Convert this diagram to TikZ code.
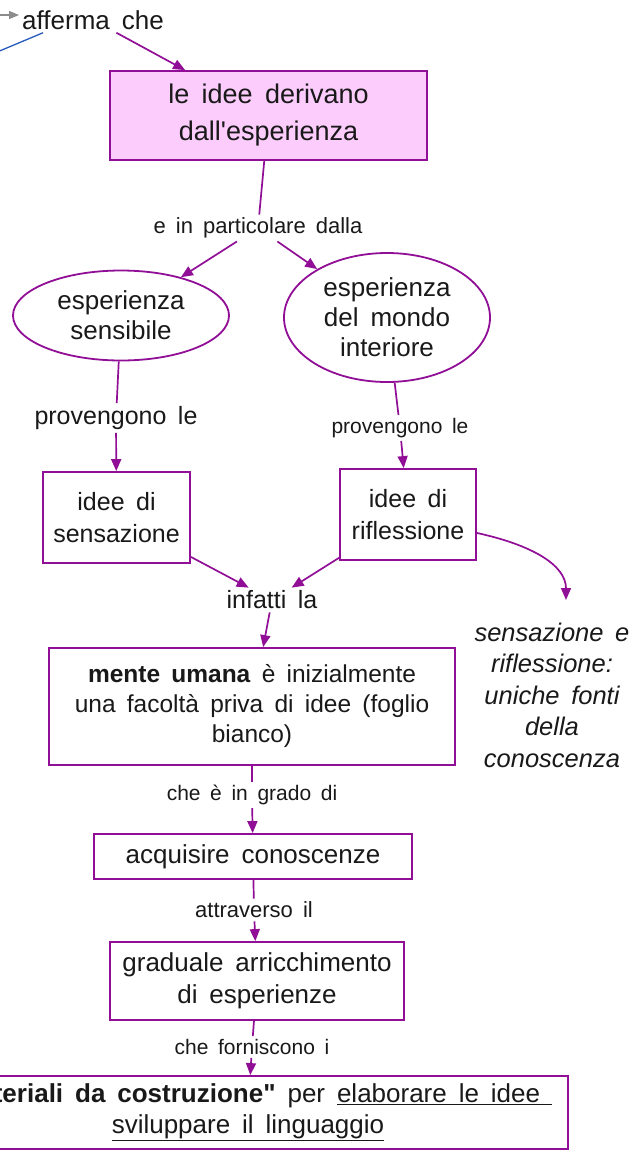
\documentclass[tikz,border=0pt]{standalone}
\usepackage{fontspec}
\setmainfont{Liberation Sans}[Ligatures=TeXOff, WordSpace=1.65]
\usetikzlibrary{arrows.meta,shapes.geometric}
\definecolor{cpurple}{RGB}{145,15,150}
\definecolor{cpink}{RGB}{252,204,252}
\definecolor{cblue}{RGB}{40,90,190}
\definecolor{cgray}{RGB}{140,140,140}
\definecolor{ctext}{RGB}{25,25,25}
\tikzset{
  concept/.style={draw=cpurple, line width=1.8pt, text=ctext, align=center, inner sep=0pt, font=\fontsize{26}{30}\selectfont},
  conbox/.style={concept, rectangle},
  conell/.style={concept, ellipse},
  linkph/.style={text=ctext, align=center, inner sep=3pt, font=\fontsize{22}{26}\selectfont},
  conn/.style={draw=cpurple, line width=1.7pt},
  arr/.style={conn, -{Triangle[length=12pt,width=10pt]}},
}
\begin{document}
\begin{tikzpicture}[x=1pt,y=-1pt]
\useasboundingbox (0,0) rectangle (644,1152);
\fill[white] (0,0) rectangle (644,1152);
% nodes
\node[linkph, font=\fontsize{26}{30}\selectfont] (aff) at (93,20) {afferma che};
\node[conbox, fill=cpink, minimum width=317pt, minimum height=89pt, font=\fontsize{27}{37}\selectfont] (pink) at (268.5,115.5) {le idee derivano\\dall'esperienza};
\node[linkph] (lpart) at (258,228) {e in particolare dalla};
\node[conell, minimum width=216pt, minimum height=90pt] (ell1) at (121,315.5) {esperienza\\sensibile};
\node[conell, minimum width=206pt, minimum height=129pt] (ell2) at (387,317.5) {esperienza\\del mondo\\interiore};
\node[linkph, font=\fontsize{25}{30}\selectfont] (lprov1) at (116,418) {provengono le};
\node[linkph, font=\fontsize{21}{25}\selectfont] (lprov2) at (400,428) {provengono le};
\node[conbox, minimum width=147pt, minimum height=91pt, font=\fontsize{25}{32}\selectfont] (bsens) at (116.5,517.5) {idee di\\sensazione};
\node[conbox, minimum width=136pt, minimum height=91pt, font=\fontsize{25}{32}\selectfont] (brifl) at (408,514.5) {idee di\\riflessione};
\node[linkph, font=\fontsize{25}{30}\selectfont] (linf) at (272,600) {infatti la};
\node[conbox, minimum width=406pt, minimum height=117pt, font=\fontsize{24.5}{30}\selectfont] (bmente) at (252,706.5) {\textbf{mente umana} è inizialmente\\una facoltà priva di idee (foglio\\bianco)};
\node[text=ctext, align=center, inner sep=0pt, font=\itshape\fontsize{25.5}{31.5}\selectfont] (tfonti) at (552,695) {sensazione e\\riflessione:\\uniche fonti\\della\\conoscenza};
\node[linkph, font=\fontsize{21}{25}\selectfont] (lgrado) at (252,795) {che è in grado di};
\node[conbox, minimum width=318pt, minimum height=45pt] (bacq) at (253,856.5) {acquisire conoscenze};
\node[linkph] (latt) at (254,910) {attraverso il};
\node[conbox, minimum width=294pt, minimum height=78pt, font=\fontsize{26}{32}\selectfont] (bgrad) at (257,981) {graduale arricchimento\\di esperienze};
\node[linkph, font=\fontsize{21}{25}\selectfont] (lforn) at (252,1047) {che forniscono i};
\node[conbox, minimum width=640pt, minimum height=73pt, font=\fontsize{26}{31}\selectfont] (bmat) at (248,1112.5) {\textbf{"materiali da costruzione"} per \underline{elaborare le idee\ }\\\underline{sviluppare il linguaggio}};
% free ends
\coordinate (gstart) at (-20,15);
\coordinate (bstart) at (-10,55);
\coordinate (ftip) at (566,600);
% connectors
\draw[draw=cgray, line width=1.2pt, -{Triangle[length=10pt,width=8pt]}] (gstart) -- (aff.west |- gstart);
\draw[draw=cblue, line width=1.3pt] (bstart) -- ([xshift=24pt]aff.south west);
\draw[arr] (aff) -- (pink);
\draw[conn] (pink) -- (lpart);
\draw[arr] (lpart) -- (ell1);
\draw[arr] (lpart) -- (ell2);
\draw[conn] (ell1) -- (lprov1);
\draw[arr] (lprov1) -- (bsens);
\draw[conn] (ell2) -- (lprov2);
\draw[arr] (lprov2) -- (brifl);
\draw[arr] (bsens) -- (linf);
\draw[arr] (brifl) -- (linf);
\draw[arr] (linf) -- (bmente);
\draw[arr] (brifl.-15) .. controls +(55,12) and +(0,-35) .. (ftip);
\draw[conn] (bmente) -- (lgrado);
\draw[arr] (lgrado) -- (bacq);
\draw[conn] (bacq) -- (latt);
\draw[arr] (latt) -- (bgrad);
\draw[conn] (bgrad) -- (lforn);
\draw[arr] (lforn) -- (bmat);
\end{tikzpicture}
\end{document}
